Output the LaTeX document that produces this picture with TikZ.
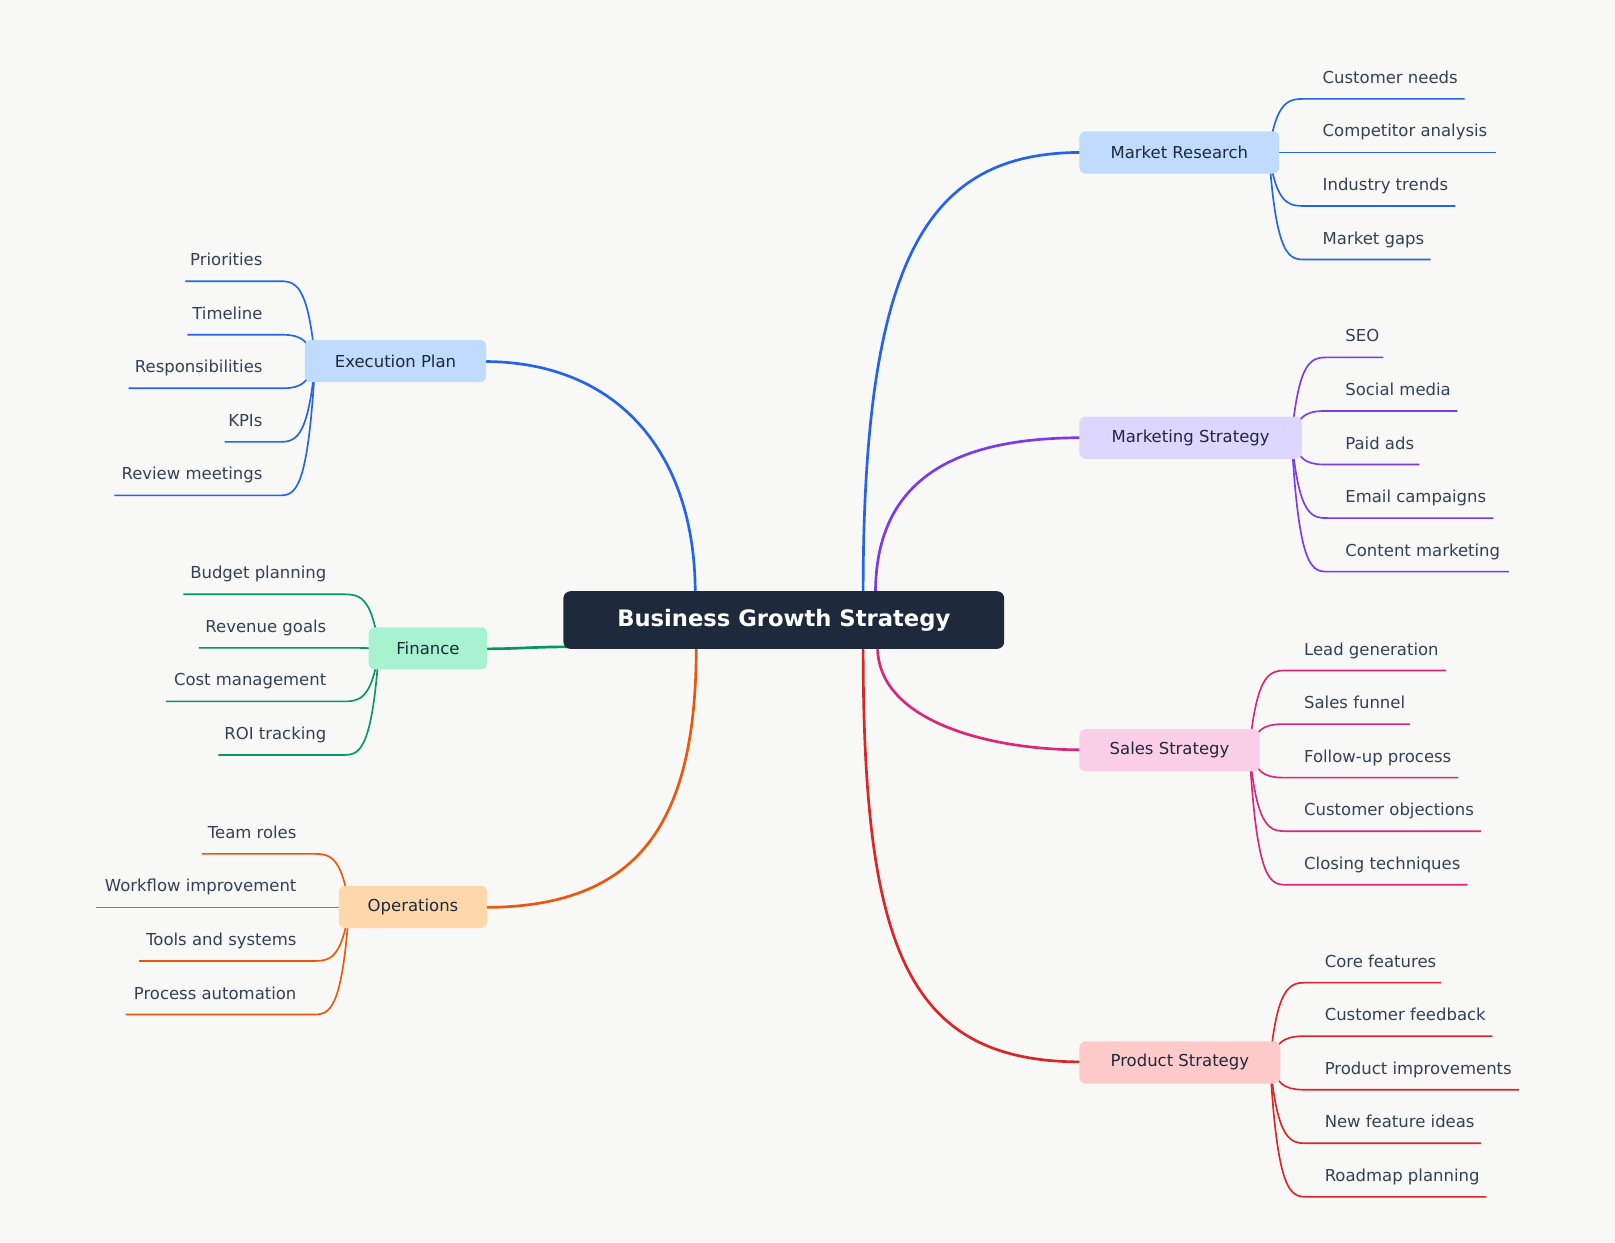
\documentclass[tikz,border=0pt]{standalone}
\usepackage{fontspec}
\setmainfont{DejaVu Sans}
\usetikzlibrary{calc}
\definecolor{bg}{HTML}{F8F8F7}
\definecolor{dark}{HTML}{1E293B}
\definecolor{leaftxt}{HTML}{334155}
\definecolor{cblue}{HTML}{2563EB}
\definecolor{cpurple}{HTML}{7C3AED}
\definecolor{cpink}{HTML}{DB2777}
\definecolor{cred}{HTML}{DC2626}
\definecolor{cgreen}{HTML}{059669}
\definecolor{corange}{HTML}{EA580C}
\definecolor{fblue}{HTML}{BFDBFE}
\definecolor{fpurple}{HTML}{DDD6FE}
\definecolor{fpink}{HTML}{FBCFE8}
\definecolor{fred}{HTML}{FECACA}
\definecolor{fgreen}{HTML}{A7F3D0}
\definecolor{forange}{HTML}{FED7AA}
\tikzset{
 topic/.style={rounded corners=6pt, minimum height=41pt, inner sep=0pt, text=dark, font=\fontsize{16}{19}\selectfont},
 leaftext/.style={inner sep=0pt, text=leaftxt, font=\fontsize{16}{19}\selectfont},
 mainline/.style={line width=2.6pt},
 leafline/.style={line width=1.6pt},
}
\begin{document}
\begin{tikzpicture}[x=1pt,y=-1pt]
\fill[bg] (0,0) rectangle (1568,1206);
\useasboundingbox (0,0) rectangle (1568,1206);
% coordinates for main curves
\coordinate (sMR) at (838,576);
\coordinate (sMS) at (850,576);
\coordinate (sSS) at (852,628);
\coordinate (sPS) at (838,628);
\coordinate (sEP) at (675,576);
\coordinate (sFI) at (552,628);
\coordinate (sOP) at (676,628);
\coordinate (eMR) at (1050,148);
\coordinate (eMS) at (1050,425);
\coordinate (eSS) at (1050,728);
\coordinate (ePS) at (1050,1031);
\coordinate (eEP) at (470,351);
\coordinate (eFI) at (470,630);
\coordinate (eOP) at (470,881);
\draw[mainline,cblue] (sMR) .. controls (838,250) and (900,148) .. (eMR);
\draw[mainline,cpurple] (sMS) .. controls (850,470) and (920,425) .. (eMS);
\draw[mainline,cpink] (sSS) .. controls (852,700) and (960,728) .. (eSS);
\draw[mainline,cred] (sPS) .. controls (838,920) and (880,1031) .. (ePS);
\draw[mainline,cblue] (sEP) .. controls (675,440) and (600,351) .. (eEP);
\draw[mainline,cgreen] (sFI) .. controls (520,628) and (500,630) .. (eFI);
\draw[mainline,corange] (sOP) .. controls (676,800) and (620,881) .. (eOP);
% right leaves: startx, underline startx, uly, endx, text, color
\foreach \sx/\cy/\ux/\uy/\ex/\t/\c [count=\i] in {
 1232/148/1268/96/1422/Customer needs/cblue,
 1232/148/1268/148/1452/Competitor analysis/cblue,
 1232/148/1268/200/1413/Industry trends/cblue,
 1232/148/1268/252/1389/Market gaps/cblue,
 1254/425/1290/347/1343/SEO/cpurple,
 1254/425/1290/399/1415/Social media/cpurple,
 1254/425/1290/451/1378/Paid ads/cpurple,
 1254/425/1290/503/1450/Email campaigns/cpurple,
 1254/425/1290/555/1465/Content marketing/cpurple,
 1213/728/1250/651/1404/Lead generation/cpink,
 1213/728/1250/703/1369/Sales funnel/cpink,
 1213/728/1250/755/1416/Follow-up process/cpink,
 1213/728/1250/807/1438/Customer objections/cpink,
 1213/728/1250/859/1425/Closing techniques/cpink,
 1233/1031/1270/954/1399/Core features/cred,
 1233/1031/1270/1006/1449/Customer feedback/cred,
 1233/1031/1270/1058/1475/Product improvements/cred,
 1233/1031/1270/1110/1438/New feature ideas/cred,
 1233/1031/1270/1162/1443/Roadmap planning/cred}{
 \pgfmathsetmacro\ca{\sx+0.2*(\ux-\sx)}
 \pgfmathsetmacro\cb{\sx+0.55*(\ux-\sx)}
 \coordinate (rs\i) at (\sx,\cy);
 \coordinate (ru\i) at (\ux,\uy);
 \coordinate (re\i) at (\ex,\uy);
 \node[leaftext,anchor=base west] (rt\i) at (\ux+16,\uy-15) {\t};
 \draw[leafline,\c] (rs\i) .. controls (\ca,\uy) and (\cb,\uy) .. (ru\i) -- (re\i);
}
% left leaves
\foreach \sx/\cy/\ux/\uy/\ex/\t/\c [count=\i] in {
 306/351/270/273/180/Priorities/cblue,
 306/351/270/325/182/Timeline/cblue,
 306/351/270/377/125/Responsibilities/cblue,
 306/351/270/429/218/KPIs/cblue,
 306/351/270/481/111/Review meetings/cblue,
 368/630/332/577/178/Budget planning/cgreen,
 368/630/332/629/193/Revenue goals/cgreen,
 368/630/332/681/161/Cost management/cgreen,
 368/630/332/733/212/ROI tracking/cgreen,
 339/881/303/829/196/Team roles/corange,
 339/881/303/881/93/Workflow improvement/corange,
 339/881/303/933/135/Tools and systems/corange,
 339/881/303/985/122/Process automation/corange}{
 \pgfmathsetmacro\ca{\sx+0.2*(\ux-\sx)}
 \pgfmathsetmacro\cb{\sx+0.55*(\ux-\sx)}
 \coordinate (ls\i) at (\sx,\cy);
 \coordinate (lu\i) at (\ux,\uy);
 \coordinate (le\i) at (\ex,\uy);
 \node[leaftext,anchor=base east] (lt\i) at (\ux-15,\uy-15) {\t};
 \draw[leafline,\c] (ls\i) .. controls (\ca,\uy) and (\cb,\uy) .. (lu\i) -- (le\i);
}
% topic nodes
\node[topic,fill=fblue,minimum width=194pt] (MR) at (1145,148) {Market Research};
\node[topic,fill=fpurple,minimum width=216pt] (MS) at (1156,425) {Marketing Strategy};
\node[topic,fill=fpink,minimum width=175pt] (SS) at (1135.5,728.5) {Sales Strategy};
\node[topic,fill=fred,minimum width=195pt] (PS) at (1145.5,1031.5) {Product Strategy};
\node[topic,fill=fblue,minimum width=176pt] (EP) at (384,350.5) {Execution Plan};
\node[topic,fill=fgreen,minimum width=115pt] (FI) at (415.5,629.5) {Finance};
\node[topic,fill=forange,minimum width=144pt] (OP) at (401,880.5) {Operations};
\node[rounded corners=7pt,fill=dark,text=white,minimum width=428pt,minimum height=56pt,inner sep=0pt,font=\bfseries\fontsize{22}{26}\selectfont] (C) at (761,602) {Business Growth Strategy};
\end{tikzpicture}
\end{document}
